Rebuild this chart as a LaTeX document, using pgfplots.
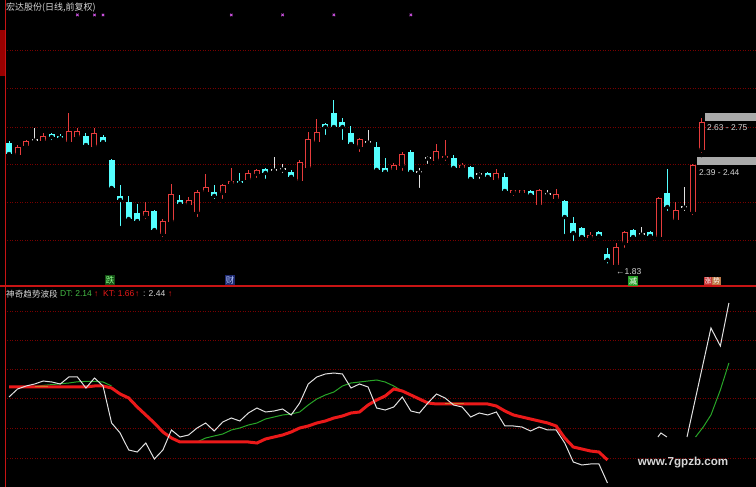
\documentclass[border=0pt]{standalone}
\usepackage{pgfplots}
\pgfplotsset{compat=1.18}
\usepackage{pgfplotstable}
\usepackage{fontspec}
\setmainfont{Liberation Sans}
\newfontfamily\cjk{Noto Sans CJK SC}

\definecolor{candcyan}{RGB}{84,255,255}
\definecolor{candred}{RGB}{230,60,60}
\definecolor{dojiwhite}{RGB}{225,225,225}
\definecolor{gridred}{RGB}{120,0,0}
\definecolor{sepred}{RGB}{200,20,20}
\definecolor{kred}{RGB}{235,25,25}
\definecolor{dtgreen}{RGB}{40,165,40}
\definecolor{txtgreen}{RGB}{70,190,70}
\definecolor{markpink}{RGB}{200,80,220}
\definecolor{boxgray}{RGB}{170,170,170}
\definecolor{lblgray}{RGB}{215,215,215}
\definecolor{korange}{RGB}{210,120,40}

\pgfplotstableread{
i o h l c
1 2.498 2.558 2.487 2.546
2 2.552 2.588 2.546 2.582
4 2.582 2.630 2.570 2.612
7 2.576 2.750 2.552 2.642
8 2.606 2.660 2.582 2.642
10 2.546 2.660 2.540 2.630
16 2.133 2.217 2.103 2.163
18 2.025 2.115 1.995 2.103
19 2.097 2.325 2.091 2.265
21 2.199 2.247 2.193 2.229
22 2.157 2.289 2.115 2.277
23 2.277 2.385 2.253 2.307
25 2.271 2.325 2.223 2.319
26 2.325 2.421 2.319 2.343
28 2.349 2.409 2.331 2.391
29 2.385 2.415 2.349 2.409
34 2.343 2.469 2.331 2.457
35 2.421 2.636 2.421 2.594
36 2.576 2.714 2.576 2.636
41 2.546 2.600 2.504 2.594
45 2.409 2.451 2.397 2.439
46 2.433 2.516 2.391 2.504
50 2.463 2.564 2.445 2.522
53 2.421 2.451 2.415 2.439
57 2.349 2.415 2.331 2.391
59 2.271 2.289 2.241 2.289
60 2.271 2.289 2.247 2.289
62 2.199 2.295 2.193 2.289
64 2.235 2.295 2.217 2.265
68 2.001 2.037 1.989 2.019
71 1.840 1.971 1.830 1.948
72 1.971 2.043 1.930 2.037
76 2.007 2.247 1.989 2.241
78 2.109 2.217 2.109 2.169
80 2.157 2.445 2.127 2.439
81 2.528 2.720 2.498 2.696
}\upT

\pgfplotstableread{
i o h l c
0 2.570 2.582 2.498 2.504
5 2.624 2.630 2.576 2.606
6 2.612 2.624 2.576 2.600
9 2.612 2.630 2.540 2.558
11 2.606 2.618 2.558 2.576
12 2.469 2.475 2.295 2.301
13 2.253 2.319 2.061 2.229
14 2.217 2.253 2.103 2.115
15 2.151 2.205 2.091 2.103
17 2.163 2.169 2.043 2.049
20 2.229 2.259 2.187 2.205
24 2.277 2.319 2.223 2.253
27 2.343 2.391 2.307 2.331
30 2.415 2.421 2.343 2.391
33 2.397 2.409 2.361 2.367
37 2.684 2.690 2.606 2.666
38 2.750 2.828 2.648 2.666
39 2.696 2.720 2.576 2.666
40 2.630 2.672 2.558 2.564
43 2.546 2.576 2.397 2.409
44 2.421 2.481 2.379 2.397
47 2.516 2.528 2.391 2.397
52 2.481 2.498 2.415 2.421
54 2.427 2.433 2.349 2.355
56 2.391 2.397 2.349 2.367
58 2.367 2.391 2.277 2.283
61 2.283 2.289 2.241 2.259
65 2.223 2.229 2.013 2.127
66 2.091 2.127 1.971 2.031
67 2.061 2.067 2.001 2.007
69 2.037 2.043 1.989 2.013
70 1.906 1.942 1.836 1.870
73 2.049 2.055 2.001 2.007
75 2.037 2.043 1.989 2.013
77 2.271 2.415 2.151 2.187
}\downT

\pgfplotstableread{
i p h l
3 2.588 2.660 2.570
31 2.409 2.487 2.391
32 2.415 2.445 2.379
42 2.576 2.648 2.570
48 2.397 2.421 2.289
49 2.481 2.492 2.433
55 2.385 2.397 2.343
63 2.265 2.289 2.241
74 2.025 2.067 2.007
79 2.187 2.307 2.151
}\dojiT

\pgfplotstableread{
i p h l
51 2.487 2.588 2.451
}\rdojiT

\pgfplotsset{
  candle/.style 2 args={only marks, mark=none, forget plot,
    error bars/y dir=plus, error bars/y explicit, error bars/error mark=none,
    error bars/error bar style={draw=#1, line width=#2, line cap=butt}},
  panel/.style={scale only axis, width=751pt, xmin=-0.468, xmax=87.37,
    axis line style={draw=none}, xtick=\empty, ytick=\empty},
}
\tikzset{gridline/.style={draw=gridred, line width=0.8pt, dash pattern=on 1pt off 1.5pt}}

\begin{document}
\begin{tikzpicture}[x=1pt,y=1pt]
\path[use as bounding box] (0,0) rectangle (756,487);
\fill[black] (0,0) rectangle (756,487);

% ---------------- upper panel: candles ----------------
\begin{axis}[panel, at={(5pt,487pt)}, anchor=north west, height=286pt,
  ymin=1.714, ymax=3.4266]
\pgfplotsinvokeforeach{1.989,2.217,2.445,2.666,2.897,3.127}{
  \draw[gridline] (axis cs:-0.468,#1) -- (axis cs:87.37,#1);
}
% red (up) candles: wick, outline body, hollow inside
\addplot[candle={candred}{1pt}] table[x=i, y=l, y error expr=\thisrow{h}-\thisrow{l}] {\upT};
\addplot[candle={candred}{6pt}] table[x=i, y=o, y error expr=\thisrow{c}-\thisrow{o}] {\upT};
\addplot[candle={black}{4pt}] table[x=i, y expr=\thisrow{o}+0.006, y error expr={max(\thisrow{c}-\thisrow{o}-0.012,0)}] {\upT};
% cyan (down) candles
\addplot[candle={candcyan}{1pt}] table[x=i, y=l, y error expr=\thisrow{h}-\thisrow{l}] {\downT};
\addplot[candle={candcyan}{6pt}] table[x=i, y=c, y error expr=\thisrow{o}-\thisrow{c}] {\downT};
% doji
\addplot[candle={dojiwhite}{1pt}] table[x=i, y=l, y error expr=\thisrow{h}-\thisrow{l}] {\dojiT};
\addplot[candle={dojiwhite}{6pt}] table[x=i, y expr=\thisrow{p}-0.004, y error expr=0.008] {\dojiT};
\addplot[candle={candred}{1pt}] table[x=i, y=l, y error expr=\thisrow{h}-\thisrow{l}] {\rdojiT};
\addplot[candle={candred}{6pt}] table[x=i, y expr=\thisrow{p}-0.004, y error expr=0.008] {\rdojiT};
% signal marks at the top
\addplot[only marks, mark=x, mark size=1.7pt, draw=markpink, line width=0.9pt]
  coordinates {(8,3.337) (10,3.337) (11,3.337) (26,3.337) (32,3.337) (38,3.337) (47,3.337)};
% price-range boxes on the right
\fill[boxgray] (axis cs:81.4,2.702) rectangle (axis cs:87.4,2.750);
\fill[boxgray] (axis cs:80.5,2.439) rectangle (axis cs:87.4,2.487);
\end{axis}

% ---------------- lower panel: indicator ----------------
\begin{axis}[panel, at={(5pt,0pt)}, anchor=south west, height=201pt,
  ymin=1.52, ymax=2.525]
\pgfplotsinvokeforeach{1.665,1.815,1.965,2.110,2.255,2.400}{
  \draw[gridline] (axis cs:-0.468,#1) -- (axis cs:87.37,#1);
}
% green DT line (visible segments)
\addplot[dtgreen, line width=1pt, mark=none] coordinates {
 (3,2.022)(4,2.028)(5,2.032)(6,2.036)(7,2.040)(8,2.046)(9,2.048)(10,2.048)(11,2.045)(12,2.025)};
\addplot[dtgreen, line width=1pt, mark=none] coordinates {
 (22,1.745)(23,1.765)(24,1.775)(25,1.785)(26,1.805)(27,1.815)(28,1.830)(29,1.840)(30,1.860)
 (31,1.870)(32,1.880)(33,1.885)(34,1.895)(35,1.930)(36,1.960)(37,1.980)(38,1.995)(39,2.025)
 (40,2.040)(41,2.045)(42,2.050)(43,2.055)(44,2.045)(45,2.025)(46,2.000)};
\addplot[dtgreen, line width=1pt, mark=none] coordinates {
 (80.3,1.770)(81.2,1.820)(82.1,1.880)(83.2,2.005)(84.2,2.140)};
% red KT line
\addplot[kred, line width=3pt, mark=none] coordinates {
 (0,2.020)(1,2.020)(2,2.020)(3,2.020)(4,2.020)(5,2.020)(6,2.020)(7,2.020)(8,2.020)(9,2.020)
 (10,2.025)(11,2.025)(12,2.015)(13,1.985)(14,1.965)(15,1.920)(16,1.880)(17,1.840)(18,1.795)
 (19,1.765)(20,1.745)(21,1.745)(22,1.745)(23,1.745)(24,1.745)(25,1.745)(26,1.745)(27,1.745)
 (28,1.745)(29,1.740)(30,1.760)(31,1.770)(32,1.780)(33,1.795)(34,1.815)(35,1.825)(36,1.840)
 (37,1.850)(38,1.865)(39,1.875)(40,1.890)(41,1.895)(42,1.930)(43,1.955)(44,1.975)(45,2.010)
 (46,2.000)(47,1.980)(48,1.960)(49,1.940)(50,1.935)(51,1.935)(52,1.935)(53,1.935)(54,1.935)
 (55,1.935)(56,1.935)(57,1.925)(58,1.900)(59,1.880)(60,1.870)(61,1.860)(62,1.850)(63,1.840)
 (64,1.825)(65,1.765)(66,1.720)(67,1.710)(68,1.700)(69,1.695)(70,1.655)};
\addplot[korange, line width=1.3pt, mark=none] coordinates {(3,2.021)(4.6,2.021)};
\addplot[korange, line width=1.3pt, mark=none] coordinates {(51,1.936)(53.2,1.936)};
% white line
\addplot[dojiwhite, line width=1pt, mark=none] coordinates {
 (0,1.970)(1,2.010)(2,2.025)(3,2.035)(4,2.050)(5,2.045)(6,2.035)(7,2.070)(8,2.070)(9,2.015)
 (10,2.065)(11,2.025)(12,1.840)(13,1.790)(14,1.705)(15,1.695)(16,1.740)(17,1.660)(18,1.705)
 (19,1.805)(20,1.770)(21,1.780)(22,1.815)(23,1.840)(24,1.800)(25,1.845)(26,1.865)(27,1.850)
 (28,1.890)(29,1.915)(30,1.895)(31,1.900)(32,1.910)(33,1.880)(34,1.940)(35,2.035)(36,2.070)
 (37,2.085)(38,2.090)(39,2.085)(40,2.015)(41,2.035)(42,2.020)(43,1.915)(44,1.905)(45,1.920)
 (46,1.970)(47,1.900)(48,1.890)(49,1.940)(50,1.985)(51,1.965)(52,1.930)(53,1.920)(54,1.870)
 (55,1.890)(56,1.880)(57,1.895)(58,1.825)(59,1.825)(60,1.820)(61,1.800)(62,1.820)(63,1.805)
 (64,1.805)(65,1.740)(66,1.645)(67,1.630)(68,1.635)(69,1.635)(70,1.540)};
\addplot[dojiwhite, line width=1pt, mark=none] coordinates {(75.9,1.770)(76.25,1.790)(76.95,1.770)};
\addplot[dojiwhite, line width=1pt, mark=none] coordinates {(79.3,1.770)(82.1,2.315)(83.2,2.225)(84.2,2.440)};
\end{axis}

% ---------------- frame lines ----------------
\draw[sepred, line width=1.2pt] (0,201) -- (756,201);
\draw[sepred, line width=1pt] (5,0) -- (5,487);
\fill[red!60!black] (0,411) rectangle (4.5,457);

% ---------------- texts ----------------
\node[anchor=west, inner sep=0pt, text=lblgray, font=\cjk\fontsize{9}{10}\selectfont] at (6,479) {宏达股份(日线,前复权)};

\node[anchor=center, inner sep=1pt, fill={rgb,255:red,20;green,80;blue,20}, text={rgb,255:red,140;green,255;blue,140}, font=\cjk\fontsize{8.5}{9}\selectfont] at (110,207) {跌};
\node[anchor=center, inner sep=1pt, fill={rgb,255:red,30;green,40;blue,110}, text={rgb,255:red,180;green,200;blue,255}, font=\cjk\fontsize{8.5}{9}\selectfont] at (230,207) {财};
\node[anchor=center, inner sep=1pt, fill={rgb,255:red,40;green,160;blue,40}, text=white, font=\cjk\fontsize{8}{9}\selectfont] at (633,206) {减};
\node[anchor=center, inner sep=0.8pt, fill={rgb,255:red,200;green,50;blue,50}, text=white, font=\cjk\fontsize{7}{8}\selectfont] at (708,206) {涨};
\node[anchor=center, inner sep=0.8pt, fill={rgb,255:red,190;green,120;blue,70}, text=white, font=\cjk\fontsize{7}{8}\selectfont] at (716.5,206) {势};

\node[anchor=west, inner sep=0pt, text=lblgray, font=\fontsize{8.5}{9}\selectfont] at (616,215) {←1.83};
\node[anchor=west, inner sep=0pt, text=lblgray, font=\fontsize{8.4}{9}\selectfont] at (707,359) {2.63 - 2.75};
\node[anchor=west, inner sep=0pt, text=lblgray, font=\fontsize{8.4}{9}\selectfont] at (699,314) {2.39 - 2.44};

\node[anchor=west, inner sep=0pt, text=lblgray, font=\cjk\fontsize{8.6}{9}\selectfont] at (6,193) {神奇趋势波段};
\node[anchor=west, inner sep=0pt, text=txtgreen, font=\fontsize{8.5}{9}\selectfont] at (60,193) {DT: 2.14};
\node[anchor=west, inner sep=0pt, text=kred, font=\fontsize{8.5}{9}\selectfont] at (94,193) {↑};
\node[anchor=west, inner sep=0pt, text=kred, font=\fontsize{8.5}{9}\selectfont] at (103,193) {KT: 1.66};
\node[anchor=west, inner sep=0pt, text=kred, font=\fontsize{8.5}{9}\selectfont] at (135,193) {↑};
\node[anchor=west, inner sep=0pt, text=lblgray, font=\fontsize{8.5}{9}\selectfont] at (143,193) {: 2.44};
\node[anchor=west, inner sep=0pt, text=kred, font=\fontsize{8.5}{9}\selectfont] at (168,193) {↑};

\node[anchor=center, inner sep=0pt, text=lblgray, font=\bfseries\fontsize{11.6}{12}\selectfont] at (683,24) {www.7gpzb.com};
\end{tikzpicture}
\end{document}
